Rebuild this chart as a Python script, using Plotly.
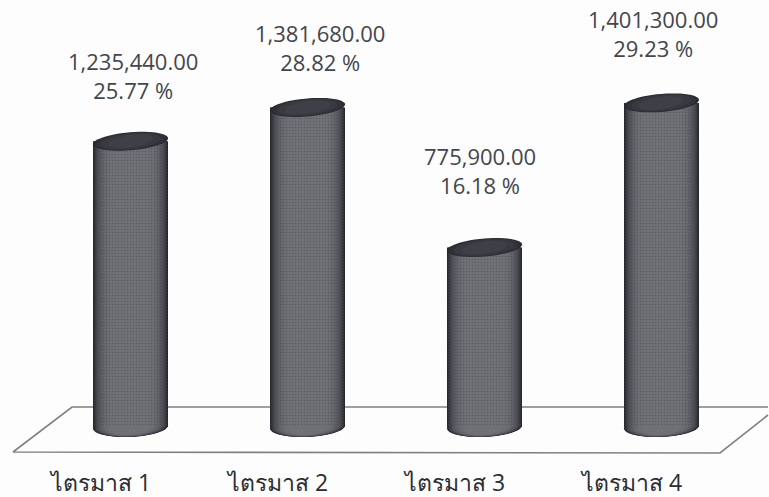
#!/usr/bin/env python

"""Quarterly amounts as 3D-looking cylinders standing on a floor."""

import numpy as np
import plotly.graph_objects as go

quarters = ["ไตรมาส 1", "ไตรมาส 2", "ไตรมาส 3", "ไตรมาส 4"]
amounts = [1235440.00, 1381680.00, 775900.00, 1401300.00]
shares = [25.77, 28.82, 16.18, 29.23]

# label offsets from the top of each cylinder, pixels
label_dx = [2, 12, -5, -9]
label_dy = [66, 60, 77, 69]

W, H = 769, 497
BOTTOM = 30
SPACING = 177.0      # px between cylinders
X0 = 130.5           # px of first cylinder
Y0 = 427.0           # px of value 0
PX_PER_UNIT = 2.313e-4

x_range = [-X0 / SPACING, (W - X0) / SPACING]
y_range = [-(H - BOTTOM - Y0) / PX_PER_UNIT, Y0 / PX_PER_UNIT]

# shading bands, outside to inside
band_widths = [1.0, 0.975, 0.95, 0.92, 0.88, 0.83, 0.77, 0.7, 0.62, 0.52]
band_colors = ["#25262d", "#2e2f36", "#383940", "#43444a", "#4e4f55",
               "#58595f", "#616268", "#68696e", "#6d6e73", "#707176"]
cap_widths = [1.0, 0.92, 0.8, 0.6]
cap_colors = ["#2b2c33", "#32333a", "#393a41", "#3f4047"]
BAR_WIDTH = 75 / SPACING
RY_PX = 9.0
TILT_PX = 3.0


def ellipse_path(xc, yc, half_w, ry_px, tilt=TILT_PX):
    t = np.linspace(0, 2 * np.pi, 49)
    xs = xc + half_w * np.cos(t)
    ys = yc + (ry_px * np.sin(t) + tilt * np.cos(t)) / PX_PER_UNIT
    pts = [f"{a:.4f},{b:.1f}" for a, b in zip(xs, ys)]
    return "M" + " L".join(pts) + " Z"


def floor_x(px):
    return px / W


def floor_y(py):
    return 1 - py / (H - BOTTOM)


fig = go.Figure()
xs = list(range(len(quarters)))

for w, color in zip(band_widths, band_colors):
    fig.add_trace(go.Bar(x=xs, y=amounts, width=BAR_WIDTH * w, marker_line_width=0,
                         marker=dict(color=color, pattern=dict(shape=".", size=3, solidity=0.2,
                                                               fgcolor="#44454b", bgcolor=color)),
                         hoverinfo="skip"))

# floor, behind the cylinders
fig.add_shape(type="path", xref="paper", yref="paper", layer="below",
              path=(f"M {floor_x(13)},{floor_y(452)} L {floor_x(72)},{floor_y(407)} "
                    f"L {floor_x(768)},{floor_y(407)} M {floor_x(13)},{floor_y(452)} "
                    f"L {floor_x(720)},{floor_y(453)} L {floor_x(768)},{floor_y(415)}"),
              line=dict(color="#808080", width=1.6))

for i, amount in enumerate(amounts):
    # bottom of the cylinder: nested ellipses under the bars
    for w, color in zip(band_widths, band_colors):
        fig.add_shape(type="path", layer="below", xref="x", yref="y",
                      path=ellipse_path(i, 0, BAR_WIDTH * w / 2, RY_PX * (0.6 + 0.5 * w), 1.5),
                      fillcolor=color, line_width=0)
    # top cap
    for w, color in zip(cap_widths, cap_colors):
        fig.add_shape(type="path", layer="above", xref="x", yref="y",
                      path=ellipse_path(i, amount, BAR_WIDTH * w / 2, RY_PX * (0.2 + 0.8 * w)),
                      fillcolor=color, line_width=0)
    fig.add_annotation(x=i, y=amount, text=f"{amount:,.2f}<br>{shares[i]:.2f} %",
                       xshift=label_dx[i], yshift=label_dy[i], yanchor="middle",
                       showarrow=False, font=dict(size=22, color="#43464d"))

fig.update_layout(
    width=W, height=H, barmode="overlay", showlegend=False,
    margin=dict(l=0, r=0, t=0, b=BOTTOM, autoexpand=False),
    paper_bgcolor="#fdfdfd", plot_bgcolor="rgba(0,0,0,0)",
    font=dict(family="Open Sans, sans-serif", color="#2b2d33"),
)
fig.update_xaxes(range=x_range, tickmode="array", tickvals=[i - 29.5 / SPACING for i in xs],
                 ticktext=quarters, showgrid=False, zeroline=False, showline=False,
                 ticks="", tickangle=0, tickfont=dict(size=23), ticklabelstandoff=0)
fig.update_yaxes(range=y_range, visible=False, showgrid=False, zeroline=False)

fig.write_html("out.html", config={"displayModeBar": False},
               post_script="document.body.style.margin = '0';")
